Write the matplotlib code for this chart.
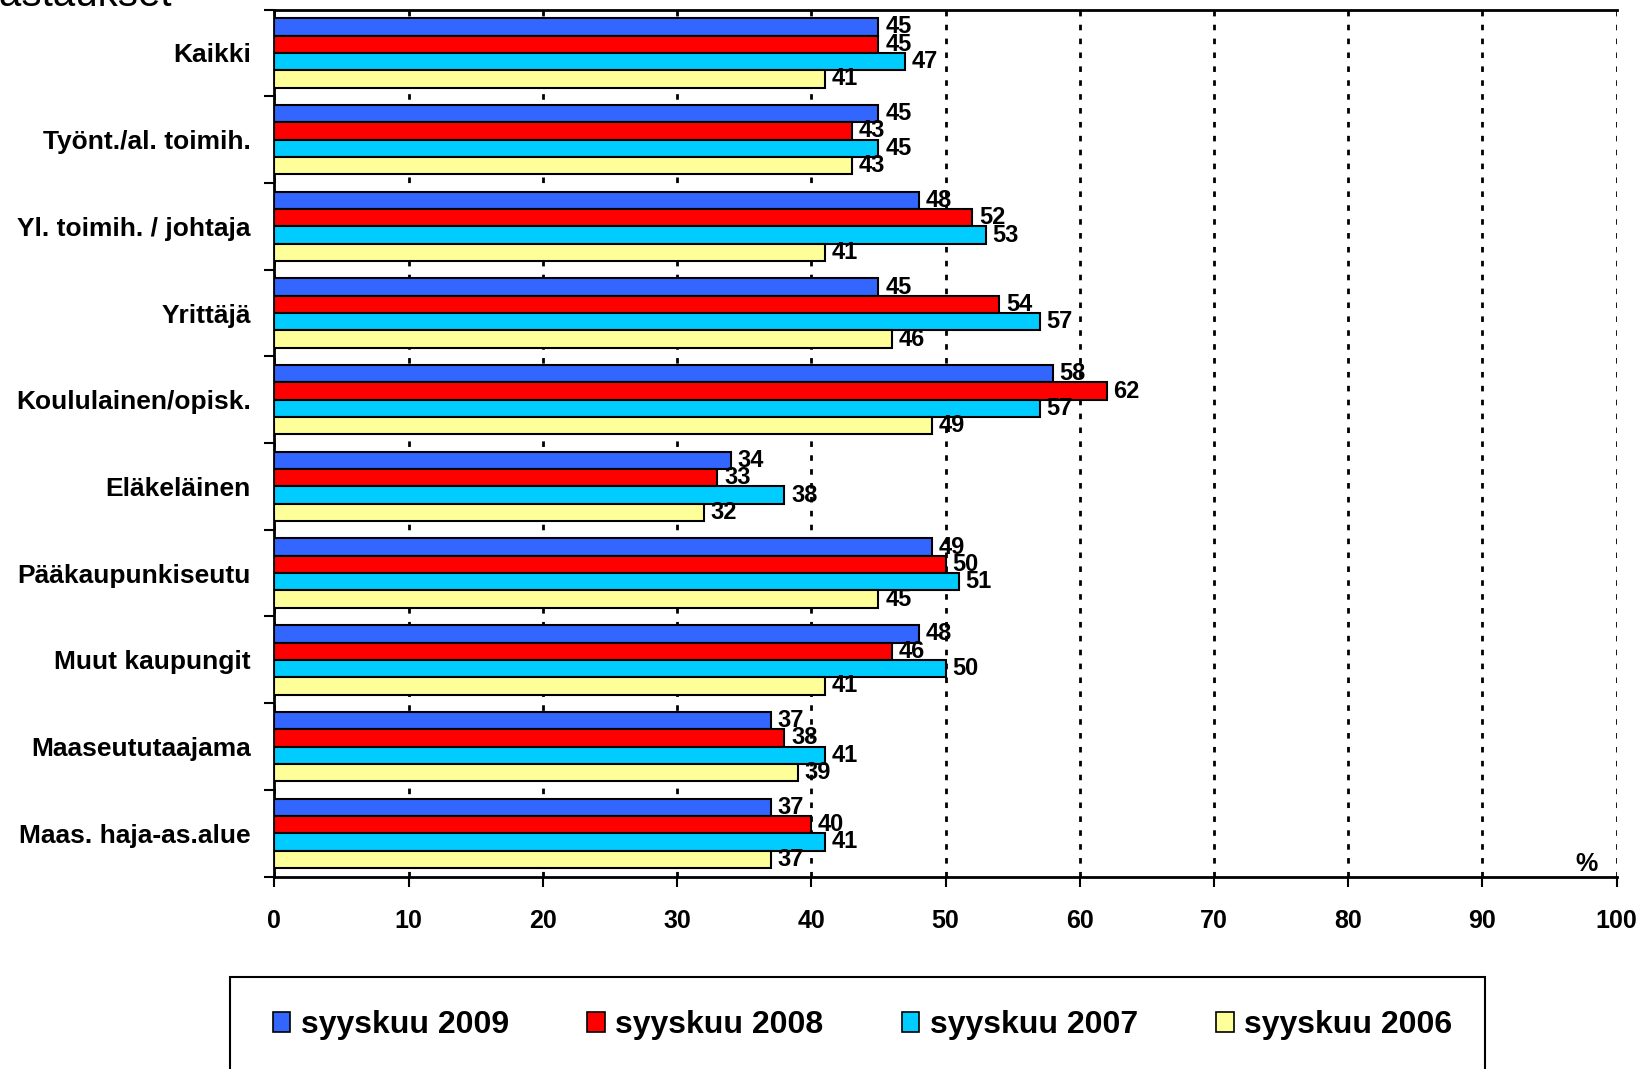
import numpy as np
import matplotlib
matplotlib.use('Agg')
import matplotlib.pyplot as plt
from matplotlib.patches import Rectangle, Patch

plt.rcParams['font.family'] = ['Liberation Sans', 'DejaVu Sans']

categories = ['Kaikki', 'Työnt./al. toimih.', 'Yl. toimih. / johtaja', 'Yrittäjä',
              'Koululainen/opisk.', 'Eläkeläinen', 'Pääkaupunkiseutu',
              'Muut kaupungit', 'Maaseututaajama', 'Maas. haja-as.alue']
series_names = ['syyskuu 2009', 'syyskuu 2008', 'syyskuu 2007', 'syyskuu 2006']
s2009 = [45, 45, 48, 45, 58, 34, 49, 48, 37, 37]
s2008 = [45, 43, 52, 54, 62, 33, 50, 46, 38, 40]
s2007 = [47, 45, 53, 57, 57, 38, 51, 50, 41, 41]
s2006 = [41, 43, 41, 46, 49, 32, 45, 41, 39, 37]
x_ticks = [0, 10, 20, 30, 40, 50, 60, 70, 80, 90, 100]

colours = ['#3366FF', '#FF0000', '#00CCFF', '#FFFF99']
series = [s2009, s2008, s2007, s2006]

fig = plt.figure(figsize=(16.43, 10.69), dpi=100)
ax = fig.add_axes([0.167, 0.180, 0.817, 0.811])

ypos = np.arange(len(categories))
h = 0.2
for j, (vals, col) in enumerate(zip(series, colours)):
    y = ypos + (j - 1.5) * h
    ax.barh(y, vals, height=h, color=col, edgecolor='black', linewidth=1.5, zorder=3)
    for yy, v in zip(y, vals):
        ax.text(v + 0.5, yy, str(v), va='center', ha='left', fontsize=17,
                fontweight='bold', zorder=4)

ax.set_xlim(0, 100)
ax.set_ylim(9.5, -0.5)
ax.set_xticks(x_ticks)
ax.set_xticklabels([str(t) for t in x_ticks], fontsize=18, fontweight='bold')
ax.tick_params(axis='x', direction='out', length=7, width=1.5, pad=16)
ax.set_yticks(ypos)
ax.set_yticklabels(categories, fontsize=19, fontweight='bold')
ax.tick_params(axis='y', which='major', length=0, pad=17)
ax.set_yticks(np.arange(-0.5, 10.0, 1.0), minor=True)
ax.tick_params(axis='y', which='minor', direction='out', length=7, width=1.5)

ax.grid(axis='x', color='black', linestyle=(0, (2, 3)), linewidth=2, zorder=1)
ax.set_axisbelow(True)

for s in ['left', 'bottom', 'top']:
    ax.spines[s].set_linewidth(2)
ax.spines['right'].set_visible(False)

ax.text(98.6, 9.35, '%', ha='right', va='center', fontsize=18, fontweight='bold')

fig.text(0.1047, 0.9944, 'Vastaukset', ha='right', va='baseline', fontsize=29)

# legend box running off the bottom edge
fig.patches.append(Rectangle((0.140, -0.05), 0.764, 0.136, transform=fig.transFigure,
                             facecolor='white', edgecolor='black', linewidth=1.5))
handles = [Patch(facecolor=c, edgecolor='black', linewidth=1.2) for c in colours]
fig.legend(handles, series_names, loc='center', bbox_to_anchor=(0.525, 0.041),
           ncol=4, frameon=False, prop={'size': 23, 'weight': 'bold'},
           handlelength=0.55, handleheight=0.6, handletextpad=0.33,
           columnspacing=2.45)

fig.savefig('out.png', dpi=100)
